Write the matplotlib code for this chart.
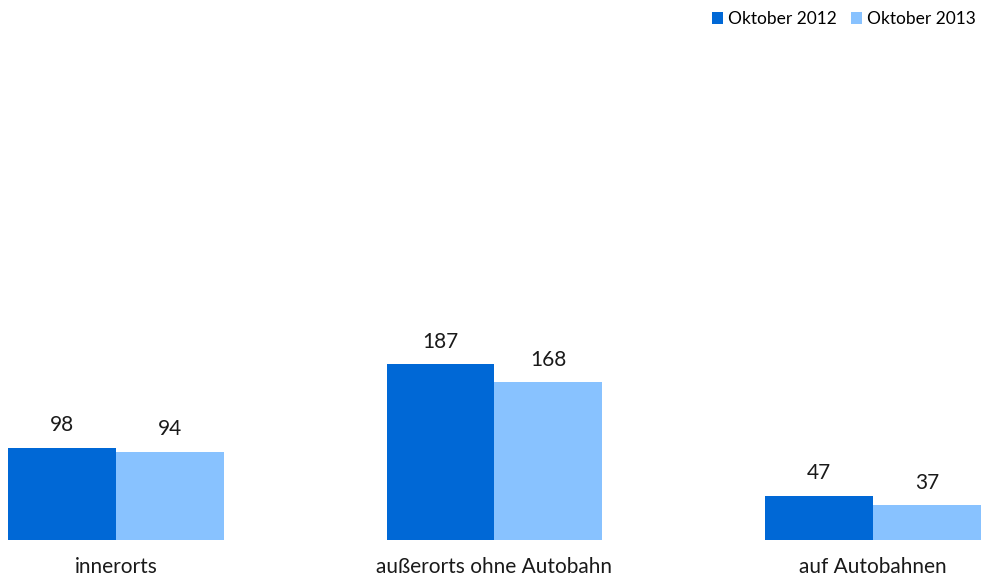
import matplotlib.pyplot as plt
import numpy as np

plt.rcParams['font.family'] = ['Lato', 'DejaVu Sans']

categories = ["innerorts", "außerorts ohne Autobahn", "auf Autobahnen"]
series_names = ["Oktober 2012", "Oktober 2013"]
values_2012 = [98, 187, 47]
values_2013 = [94, 168, 37]

dark_blue = "#0068d6"
light_blue = "#88c2ff"

W, H = 992, 580
fig = plt.figure(figsize=(W / 100, H / 100), dpi=100)
# axes spans from the left edge of the first bar to the right edge of the last
ax = fig.add_axes([8 / W, 40 / H, 973 / W, 500 / H])

x = np.arange(len(categories))
width = 0.285

bars1 = ax.bar(x - width / 2, values_2012, width, color=dark_blue, label=series_names[0])
bars2 = ax.bar(x + width / 2, values_2013, width, color=light_blue, label=series_names[1])

for bars in (bars1, bars2):
    for b in bars:
        ax.annotate(str(int(b.get_height())),
                    (b.get_x() + b.get_width() / 2, b.get_height()),
                    xytext=(0, 9), textcoords="offset points",
                    ha="center", va="bottom", fontsize=15, color="#1a1a1a")

ax.set_xlim(-width, len(categories) - 1 + width)
ax.set_ylim(0, 532)
ax.set_xticks(x)
ax.set_xticklabels(categories, fontsize=15, color="#1a1a1a")
ax.tick_params(axis="x", length=0, pad=12)
ax.set_yticks([])
for s in ax.spines.values():
    s.set_visible(False)

fig.legend(loc="upper right", bbox_to_anchor=(983 / W, 1 - 4 / H), ncol=2,
           frameon=False, fontsize=12.5, handlelength=0.65, handleheight=0.65,
           handletextpad=0.3, columnspacing=0.8, borderaxespad=0)

fig.savefig("out.png", dpi=100)
